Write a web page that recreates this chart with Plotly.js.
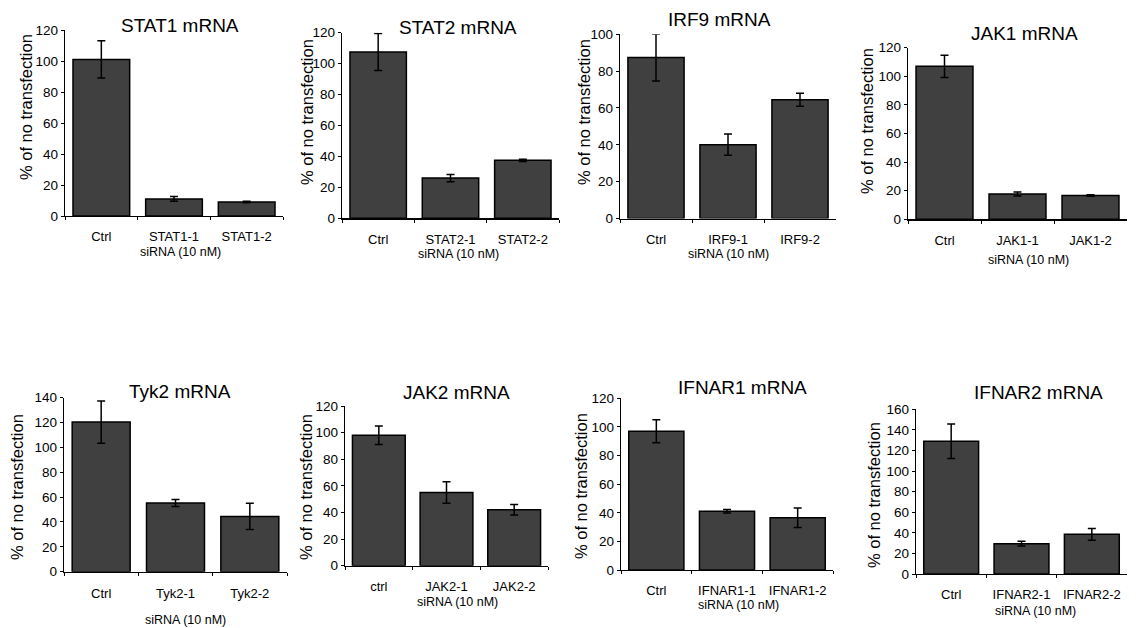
<!DOCTYPE html>
<html>
<head>
<meta charset="utf-8">
<script src="https://cdn.plot.ly/plotly-3.0.1.min.js"></script>
<style>html,body{margin:0;padding:0;background:#fff;}#chart{width:1136px;height:628px;}</style>
</head>
<body>
<div id="chart"></div>
<script>
// ---- data ----
const titles = ["STAT1 mRNA","STAT2 mRNA","IRF9 mRNA","JAK1 mRNA","Tyk2 mRNA","JAK2 mRNA","IFNAR1 mRNA","IFNAR2 mRNA"];
const stat1Labels = ["Ctrl","STAT1-1","STAT1-2"];   const stat1Values = [101, 11, 9];      const stat1Errors = [12, 1.5, 0.5];
const stat2Labels = ["Ctrl","STAT2-1","STAT2-2"];   const stat2Values = [107.5, 26, 37.5]; const stat2Errors = [12, 2.3, 0.7];
const irf9Labels = ["Ctrl","IRF9-1","IRF9-2"];      const irf9Values = [87.4, 40.1, 64.5]; const irf9Errors = [12.7, 5.8, 3.5];
const jak1Labels = ["Ctrl","JAK1-1","JAK1-2"];      const jak1Values = [107, 17.7, 16.6];  const jak1Errors = [7.8, 1.4, 0.5];
const tyk2Labels = ["Ctrl","Tyk2-1","Tyk2-2"];      const tyk2Values = [120.4, 55.2, 44.5];const tyk2Errors = [17, 2.8, 10.5];
const jak2Labels = ["ctrl","JAK2-1","JAK2-2"];      const jak2Values = [98, 55, 42];       const jak2Errors = [7, 8, 3.9];
const ifnar1Labels = ["Ctrl","IFNAR1-1","IFNAR1-2"];const ifnar1Values = [97, 41, 36.5];    const ifnar1Errors = [8, 1.2, 6.8];
const ifnar2Labels = ["Ctrl","IFNAR2-1","IFNAR2-2"];const ifnar2Values = [129, 29.5, 38.5];const ifnar2Errors = [16.7, 2.4, 5.6];
const yMax = [120, 120, 100, 120, 140, 120, 120, 160];
const yTitle = "% of no transfection";
const xTitle = "siRNA (10 nM)";

const panels = [
  [stat1Labels, stat1Values, stat1Errors],
  [stat2Labels, stat2Values, stat2Errors],
  [irf9Labels, irf9Values, irf9Errors],
  [jak1Labels, jak1Values, jak1Errors],
  [tyk2Labels, tyk2Values, tyk2Errors],
  [jak2Labels, jak2Values, jak2Errors],
  [ifnar1Labels, ifnar1Values, ifnar1Errors],
  [ifnar2Labels, ifnar2Values, ifnar2Errors]
];

// ---- layout geometry (pixels) ----
const W = 1136, H = 628;
const plotBox = [ // x0, x1, yTop, yBottom
  [65, 283, 30, 216],
  [342, 559, 32.7, 218.3],
  [620, 836, 34.3, 218.5],
  [908, 1127, 47.7, 219.3],
  [64, 287, 397.7, 571.7],
  [345, 548, 406, 565.7],
  [621, 833, 398.3, 570],
  [916, 1127, 409.3, 574]
];
const xLabelStandoff = [8, 9, 9, 9, 9, 8, 8, 8];
const titlePos = [[180,26],[458,27],[719,20],[1024,34],[180,391],[456,392],[742,387],[1038,392]];
const yTitlePos = [[26,107],[307,112],[584,112],[867,121],[17,487],[306,487],[581,486],[874,495]];
const xTitlePos = [[180,252],[458,254],[728,254],[1028,260],[185,620],[457,602],[738,605],[1035,611]];

const FONT = "Liberation Sans, Arial, sans-serif";
const px = x => x / W;
const py = y => 1 - y / H;

const traces = [];
const layout = {
  width: W, height: H,
  margin: {l:0, r:0, t:0, b:0},
  paper_bgcolor: "#fff", plot_bgcolor: "#fff",
  showlegend: false,
  bargap: 0.22,
  font: {family: FONT, color: "#000", size: 13},
  annotations: []
};

panels.forEach((p, i) => {
  const n = i + 1;
  const xa = n === 1 ? "x" : "x" + n;
  const ya = n === 1 ? "y" : "y" + n;
  traces.push({
    type: "bar",
    x: p[0], y: p[1],
    xaxis: xa, yaxis: ya,
    marker: {color: "#404040", line: {color: "#000", width: 1.5}},
    error_y: {type: "data", array: p[2], visible: true, color: "#000", thickness: 1.5, width: 4},
    hoverinfo: "none"
  });
  const b = plotBox[i];
  layout["xaxis" + (n === 1 ? "" : n)] = {
    domain: [px(b[0]), px(b[1])],
    anchor: ya,
    type: "category",
    showline: true, linecolor: "#000", linewidth: 1.2,
    ticks: "outside", tickson: "boundaries", ticklen: 3, tickcolor: "#000", tickwidth: 1,
    ticklabelstandoff: xLabelStandoff[i],
    showgrid: false, zeroline: false,
    tickfont: {family: FONT, size: 13, color: "#000"},
    fixedrange: true
  };
  layout["yaxis" + (n === 1 ? "" : n)] = {
    domain: [py(b[3]), py(b[2])],
    anchor: xa,
    range: [0, yMax[i]],
    dtick: 20,
    showline: true, linecolor: "#000", linewidth: 1.2,
    ticks: "outside", ticklen: 3, tickcolor: "#000", tickwidth: 1,
    showgrid: false, zeroline: false,
    tickfont: {family: FONT, size: 13.5, color: "#000"},
    fixedrange: true
  };
  layout.annotations.push({
    text: titles[i], xref: "paper", yref: "paper",
    x: px(titlePos[i][0]), y: py(titlePos[i][1]),
    xanchor: "center", yanchor: "middle", showarrow: false,
    font: {family: FONT, size: 19, color: "#000"}
  });
  layout.annotations.push({
    text: yTitle, xref: "paper", yref: "paper",
    x: px(yTitlePos[i][0]), y: py(yTitlePos[i][1]),
    xanchor: "center", yanchor: "middle", showarrow: false, textangle: -90,
    font: {family: FONT, size: 16.5, color: "#000"}
  });
  layout.annotations.push({
    text: xTitle, xref: "paper", yref: "paper",
    x: px(xTitlePos[i][0]), y: py(xTitlePos[i][1]),
    xanchor: "center", yanchor: "middle", showarrow: false,
    font: {family: FONT, size: 12.5, color: "#000"}
  });
});

Plotly.newPlot("chart", traces, layout, {displayModeBar: false, staticPlot: true});
</script>
</body>
</html>
